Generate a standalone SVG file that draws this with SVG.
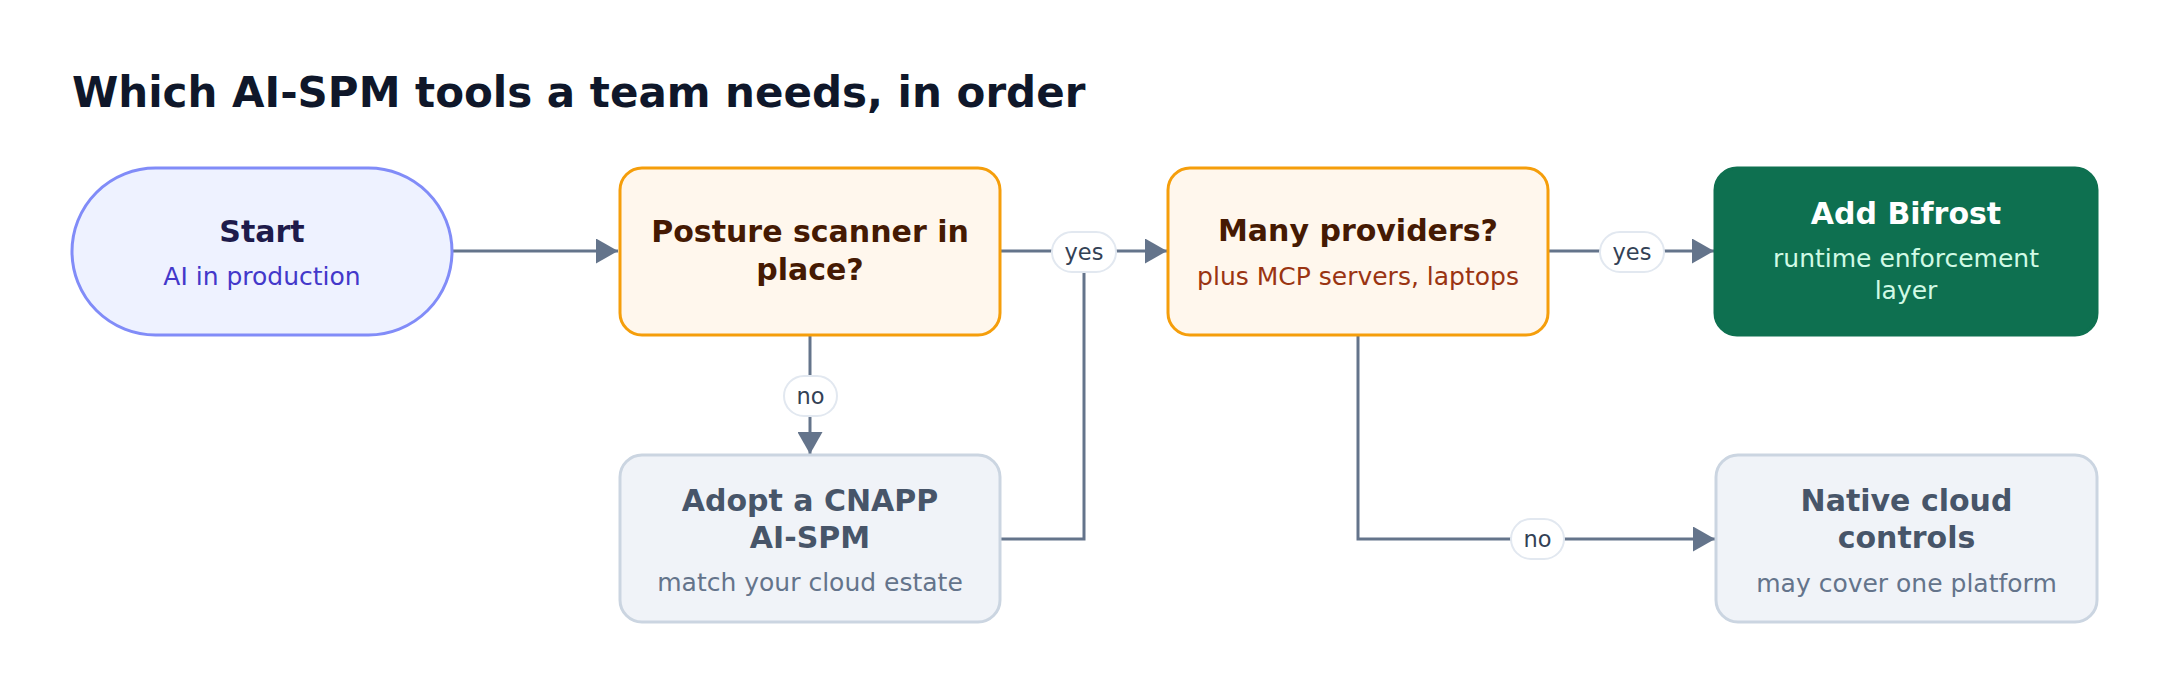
<svg xmlns="http://www.w3.org/2000/svg" width="2168" height="696" viewBox="0 0 2168 696">
<style>
text{font-family:"DejaVu Sans","Liberation Sans",sans-serif;text-anchor:middle}
.title{font-size:42px;font-weight:bold;fill:#0f172a;text-anchor:start}
.h{font-size:30px;font-weight:bold}
.s{font-size:25px}
.edge{fill:none;stroke:#64748b;stroke-width:3}
.pill{fill:#ffffff;stroke:#e2e8f0;stroke-width:2}
.lbl{font-size:22.5px;fill:#334155}
.warn rect{fill:#fff7ed;stroke:#f59e0b;stroke-width:3}
.warn .h{fill:#451a03}
.warn .s{fill:#9a3412}
.muted rect{fill:#f0f3f8;stroke:#cbd5e1;stroke-width:3}
.muted .h{fill:#475569}
.muted .s{fill:#64748b}
</style>
<defs>
<marker id="arr" markerUnits="userSpaceOnUse" markerWidth="22" markerHeight="25" refX="22" refY="12.5" orient="auto" viewBox="0 0 22 25">
<path d="M0,0 L22,12.5 L0,25 z" fill="#64748b"/>
</marker>
</defs>
<rect width="2168" height="696" fill="#ffffff"/>
<text class="title" x="72" y="107">Which AI-SPM tools a team needs, in order</text>

<g id="connectors">
<path class="edge" d="M452,251 H618" marker-end="url(#arr)"/>
<path class="edge" d="M1000,251 H1167" marker-end="url(#arr)"/>
<path class="edge" d="M1000,539 H1084 V251"/>
<path class="edge" d="M810,335 V454" marker-end="url(#arr)"/>
<path class="edge" d="M1548,251 H1714" marker-end="url(#arr)"/>
<path class="edge" d="M1358,335 V539 H1715" marker-end="url(#arr)"/>
<rect class="pill" x="1052" y="232" width="64" height="40" rx="20"/>
<text class="lbl" x="1084" y="260">yes</text>
<rect class="pill" x="1600" y="232" width="64" height="40" rx="20"/>
<text class="lbl" x="1632" y="260">yes</text>
<rect class="pill" x="784" y="376" width="53" height="40" rx="20"/>
<text class="lbl" x="810.5" y="404">no</text>
<rect class="pill" x="1511" y="519" width="53" height="40" rx="20"/>
<text class="lbl" x="1537.5" y="547">no</text>
</g>

<g id="start">
<rect x="72" y="168" width="380" height="167" rx="83.5" fill="#eef2ff" stroke="#818cf8" stroke-width="3"/>
<text class="h" x="262" y="242" fill="#1e1b4b">Start</text>
<text class="s" x="262" y="285" fill="#4338ca">AI in production</text>
</g>

<g id="posture" class="warn">
<rect x="620" y="168" width="380" height="167" rx="22"/>
<text class="h" x="810" y="242">Posture scanner in</text>
<text class="h" x="810" y="280">place?</text>
</g>

<g id="providers" class="warn">
<rect x="1168" y="168" width="380" height="167" rx="22"/>
<text class="h" x="1358" y="241">Many providers?</text>
<text class="s" x="1358" y="285">plus MCP servers, laptops</text>
</g>

<g id="bifrost">
<rect x="1715" y="168" width="382" height="167" rx="22" fill="#0e7050" stroke="#0e7050" stroke-width="3"/>
<text class="h" x="1906" y="224" fill="#ffffff">Add Bifrost</text>
<text class="s" x="1906" y="267" fill="#d1fae5">runtime enforcement</text>
<text class="s" x="1906" y="299" fill="#d1fae5">layer</text>
</g>

<g id="cnapp" class="muted">
<rect x="620" y="455" width="380" height="167" rx="22"/>
<text class="h" x="810" y="511">Adopt a CNAPP</text>
<text class="h" x="810" y="548">AI-SPM</text>
<text class="s" x="810" y="591">match your cloud estate</text>
</g>

<g id="native" class="muted">
<rect x="1716" y="455" width="381" height="167" rx="22"/>
<text class="h" x="1906.5" y="511">Native cloud</text>
<text class="h" x="1906.5" y="548">controls</text>
<text class="s" x="1906.5" y="592">may cover one platform</text>
</g>
</svg>
